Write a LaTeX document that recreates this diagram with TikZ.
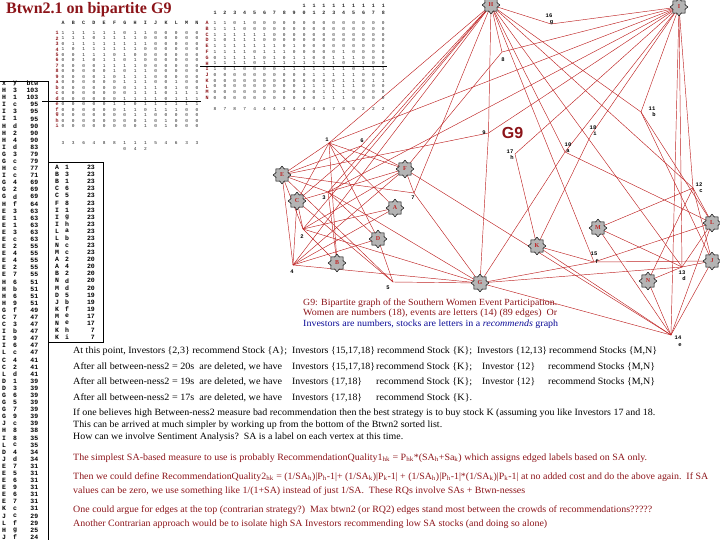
\documentclass[tikz,border=0pt]{standalone}
\usepackage{fontspec}
\usepackage{graphicx}
\setmainfont{Liberation Serif}
\newfontfamily\mono{Liberation Mono}
\newfontfamily\gsans{Liberation Sans}
\usetikzlibrary{shapes.geometric,backgrounds}
\definecolor{dred}{RGB}{140,20,25}
\definecolor{ered}{RGB}{190,35,35}
\definecolor{cblue}{RGB}{10,10,150}
\definecolor{sgray}{RGB}{180,180,180}
\newcommand\fitw[2]{\resizebox{#1pt}{\height}{#2}}
\tikzset{
 evtstar/.style={star, star points=8, star point ratio=1.35, minimum size=17.5pt, inner sep=0pt, fill=sgray, draw=black, line width=0.5pt, font={\fontsize{6}{6}\selectfont\bfseries}, text=ered},
 gedge/.style={draw=ered, line width=0.45pt},
 invlab/.style={font={\fontsize{5.5}{6}\selectfont\mono\bfseries}, inner sep=0pt, text=black},
 mcell/.style={font={\fontsize{4.5}{5}\selectfont\mono}, inner sep=0pt, text=black!85},
 rowlab/.style={font={\fontsize{5}{5}\selectfont\mono\bfseries}, inner sep=0pt, text=dred},
 tabtxt/.style={font={\fontsize{6.5}{7}\selectfont\mono\bfseries}, inner sep=0pt},
 boxline/.style={draw=black, line width=0.6pt},
 bodytxt/.style={font={\fontsize{9.6}{10}\selectfont}, inner sep=0pt, anchor=west},
 captxt/.style={font={\fontsize{9.4}{10}\selectfont}, inner sep=0pt, anchor=west},
}
\begin{document}
\begin{tikzpicture}[x=1pt,y=-1pt]
\useasboundingbox (0,0) rectangle (720,540);

% ---------- title ----------
\node[anchor=base west, inner sep=0pt, text=dred, font={\fontsize{16}{16}\selectfont\bfseries}] (title) at (6,14) {Btwn2.1 on bipartite G9};

% ---------- left table ----------
\draw[boxline] (0,81) -- (48.5,81) -- (48.5,540);
\node[tabtxt] (hx) at (4,83.5) {x};
\node[tabtxt] (hy) at (15,83.5) {y};
\node[tabtxt, anchor=east] (hb) at (38.5,83.5) {btw};
\foreach \a/\b/\c [count=\k] in {H/3/103,H/1/103,I/c/95,I/3/95,I/1/95,H/d/90,H/2/90,H/4/90,I/d/83,G/3/79,G/c/79,H/c/77,I/c/71,G/4/69,G/2/69,G/d/69,H/f/64,E/3/63,E/1/63,E/1/63,E/3/63,E/c/63,E/2/55,E/4/55,E/4/55,E/2/55,E/7/55,H/6/51,H/b/51,H/6/51,H/9/51,G/f/49,C/7/47,C/3/47,I/b/47,I/9/47,I/6/47,L/c/47,C/4/41,C/2/41,L/d/41,D/1/39,D/3/39,G/6/39,G/5/39,G/7/39,G/9/39,J/c/39,H/8/38,I/8/35,L/c/35,D/4/34,J/d/34,E/7/31,E/5/31,E/6/31,E/9/31,E/6/31,E/7/31,K/c/31,J/c/29,L/f/29,H/g/25,J/f/24}{
  \node[tabtxt] (lx\k) at (4,{90.5+(\k-1)*7.09}) {\a};
  \node[tabtxt] (ly\k) at (15,{90.5+(\k-1)*7.09}) {\b};
  \node[tabtxt, anchor=east] (lb\k) at (38.5,{90.5+(\k-1)*7.09}) {\c};
}

% ---------- middle table ----------
\draw[boxline] (48.5,162) -- (103,162) -- (103,342) -- (48.5,342);
\foreach \a/\b/\c [count=\k] in {A/1/23,B/3/23,B/1/23,C/6/23,C/5/23,F/8/23,I/1/23,I/g/23,I/h/23,L/a/23,L/b/23,N/c/23,M/c/23,A/2/20,A/4/20,B/2/20,N/d/20,M/d/20,D/5/19,J/b/19,K/f/19,M/e/17,N/e/17,K/h/7,K/i/7}{
  \node[tabtxt] (mx\k) at (57,{167.5+(\k-1)*7.08}) {\a};
  \node[tabtxt] (my\k) at (67,{167.5+(\k-1)*7.08}) {\b};
  \node[tabtxt, anchor=east] (mb\k) at (95,{167.5+(\k-1)*7.08}) {\c};
}

% ---------- matrix 1 (investors x events) ----------
\foreach \h [count=\c] in {A,B,C,D,E,F,G,H,I,J,K,L,M,N}
  \node[mcell, font={\fontsize{5}{5}\selectfont\mono\bfseries}] (pa\c) at ({63+(\c-1)*10.3},23) {\h};
\foreach \l [count=\r] in {1,2,3,4,5,6,7,8,9,a,b,c,d,e,f,g,h,i}
  \node[rowlab] (ra\r) at (57,{33+(\r-1)*5.47}) {\l};
\foreach \row [count=\r] in {
 {1,1,1,1,1,1,0,1,1,0,0,0,0,0},{1,1,1,0,1,1,1,1,0,0,0,0,0,0},{0,1,1,1,1,1,1,1,1,0,0,0,0,0},
 {1,0,1,1,1,1,1,1,0,0,0,0,0,0},{0,0,1,1,1,0,1,0,0,0,0,0,0,0},{0,0,1,0,1,1,0,1,0,0,0,0,0,0},
 {0,0,0,0,1,1,1,1,0,0,0,0,0,0},{0,0,0,0,0,1,0,1,1,0,0,0,0,0},{0,0,0,0,1,0,1,1,1,0,0,0,0,0},
 {0,0,0,0,0,0,1,1,1,0,0,1,0,0},{0,0,0,0,0,0,0,1,1,1,0,1,0,0},{0,0,0,0,0,0,0,1,1,1,0,1,1,1},
 {0,0,0,0,0,0,1,1,1,1,0,1,1,1},{0,0,0,0,0,1,1,0,1,1,1,1,1,1},{0,0,0,0,0,0,1,1,0,1,1,1,0,0},
 {0,0,0,0,0,0,0,1,1,0,0,0,0,0},{0,0,0,0,0,0,0,0,1,0,1,0,0,0},{0,0,0,0,0,0,0,0,1,0,1,0,0,0}}
 \foreach \v [count=\c] in \row
  \node[mcell] (ma\r-\c) at ({63+(\c-1)*10.3},{33+(\r-1)*5.47}) {\v};
\draw[boxline] (42,101.3) -- (201,101.3);
\foreach \a/\b [count=\c] in {3/,3/,6/,4/,8/,8/,1/0,1/4,1/2,5/,4/,6/,3/,3/}{
  \node[mcell] (fa\c) at ({63+(\c-1)*10.3},143) {\a};
  \node[mcell] (fb\c) at ({63+(\c-1)*10.3},149) {\b};
}

% ---------- matrix 2 (events x investors) ----------
\foreach \a/\b [count=\c] in {/1,/2,/3,/4,/5,/6,/7,/8,/9,1/0,1/1,1/2,1/3,1/4,1/5,1/6,1/7,1/8}{
  \node[mcell, font={\fontsize{5}{5}\selectfont\mono\bfseries}] (qa\c) at ({215+(\c-1)*9.9},5.5) {\a};
  \node[mcell, font={\fontsize{5}{5}\selectfont\mono\bfseries}] (qb\c) at ({215+(\c-1)*9.9},12.5) {\b};
}
\foreach \l [count=\r] in {A,B,C,D,E,F,G,H,I,J,K,L,M,N}
  \node[rowlab] (rb\r) at (207,{23+(\r-1)*5.77}) {\l};
\foreach \row [count=\r] in {
 {1,1,0,1,0,0,0,0,0,0,0,0,0,0,0,0,0,0},{1,1,1,0,0,0,0,0,0,0,0,0,0,0,0,0,0,0},
 {1,1,1,1,1,1,0,0,0,0,0,0,0,0,0,0,0,0},{1,0,1,1,1,0,0,0,0,0,0,0,0,0,0,0,0,0},
 {1,1,1,1,1,1,1,0,1,0,0,0,0,0,0,0,0,0},{1,1,1,1,0,1,1,1,0,0,0,0,0,1,0,0,0,0},
 {0,1,1,1,1,0,1,0,1,1,0,0,1,1,1,0,0,0},{1,1,1,1,0,1,1,1,1,1,1,1,1,0,1,1,0,0},
 {1,0,1,0,0,0,0,1,1,1,1,1,1,1,0,1,1,1},{0,0,0,0,0,0,0,0,0,0,1,1,1,1,1,0,0,0},
 {0,0,0,0,0,0,0,0,0,0,0,0,0,1,1,0,1,1},{0,0,0,0,0,0,0,0,0,1,1,1,1,1,1,0,0,0},
 {0,0,0,0,0,0,0,0,0,0,0,1,1,1,0,0,0,0},{0,0,0,0,0,0,0,0,0,0,0,1,1,1,0,0,0,0}}
 \foreach \v [count=\c] in \row
  \node[mcell] (mb\r-\c) at ({215+(\c-1)*9.9},{23+(\r-1)*5.77}) {\v};
\draw[boxline] (200,66.5) -- (387,66.5);
\foreach \a [count=\c] in {8,7,8,7,4,4,4,3,4,4,4,6,7,8,5,2,2,2}
  \node[mcell] (fq\c) at ({215+(\c-1)*9.9},109) {\a};

% ---------- graph: events ----------
\node[evtstar] (A) at (395,208) {A};
\node[evtstar] (B) at (337,263) {B};
\node[evtstar] (C) at (297,201) {C};
\node[evtstar] (D) at (378,239) {D};
\node[evtstar] (E) at (282,175) {E};
\node[evtstar] (F) at (405,169) {F};
\node[evtstar] (G) at (480,283) {G};
\node[evtstar] (H) at (491,5) {H};
\node[evtstar] (I) at (679,7) {I};
\node[evtstar] (J) at (712,261) {J};
\node[evtstar] (K) at (537,246) {K};
\node[evtstar] (L) at (712,223) {L};
\node[evtstar] (M) at (598,228) {M};
\node[evtstar] (N) at (648,281) {N};

% ---------- graph: investors ----------
\coordinate (i1) at (329,143);
\coordinate (i2) at (303,229);
\coordinate (i3) at (328,192);
\coordinate (i4) at (293,265);
\coordinate (i5) at (393,282);
\coordinate (i6) at (361,146);
\coordinate (i7) at (414,193);
\coordinate (i8) at (502,52);
\coordinate (i9) at (488.5,133);
\coordinate (i10) at (565,152);
\coordinate (i11) at (641,112);
\coordinate (i12) at (693,188);
\coordinate (i13) at (682,267);
\coordinate (i14) at (671,335);
\coordinate (i15) at (594,262);
\coordinate (i16) at (551,24);
\coordinate (i17) at (515,154);
\coordinate (i18) at (591,135);

\begin{pgfonlayer}{background}
\foreach \i/\evs in {1/{A,B,C,D,E,F,H,I},2/{A,B,C,E,F,G,H},3/{B,C,D,E,F,G,H,I},4/{A,C,D,E,F,G,H},5/{C,D,E,G},6/{C,E,F,H},7/{E,F,G,H},8/{F,H,I},9/{E,G,H,I},10/{G,H,I,L},11/{H,I,J,L},12/{H,I,J,L,M,N},13/{G,H,I,J,L,M,N},14/{F,G,I,J,K,L,M,N},15/{G,H,J,K,L},16/{H,I},17/{I,K},18/{I,K}}
  \foreach \e in \evs \draw[gedge] (i\i) -- (\e);
\end{pgfonlayer}

% investor labels
\node[invlab] (n1) at (327,140) {1};
\node[invlab] (n2) at (302,237) {2};
\node[invlab] (n3) at (324,198) {3};
\node[invlab] (n4) at (292,272) {4};
\node[invlab] (n5) at (388,288) {5};
\node[invlab] (n6) at (362,141) {6};
\node[invlab] (n7) at (413,198) {7};
\node[invlab] (n8) at (503,60) {8};
\node[invlab] (n9) at (484,133) {9};
\node[invlab] (n10) at (568,145) {10};
\node[invlab] (s10) at (568,151) {a};
\node[invlab] (n11) at (652,109) {11};
\node[invlab] (s11) at (654,115) {b};
\node[invlab] (n12) at (699,185) {12};
\node[invlab] (s12) at (701,191.5) {c};
\node[invlab] (n13) at (682,273) {13};
\node[invlab] (s13) at (684,279) {d};
\node[invlab] (n14) at (678,338) {14};
\node[invlab] (s14) at (680,345) {e};
\node[invlab] (n15) at (594,254) {15};
\node[invlab] (s15) at (597,261) {f};
\node[invlab] (n16) at (549,15.5) {16};
\node[invlab] (s16) at (551.5,23) {g};
\node[invlab] (n17) at (510,151.5) {17};
\node[invlab] (s17) at (512,158) {h};
\node[invlab] (n18) at (593,127.5) {18};
\node[invlab] (s18) at (595,133.5) {i};

\node[inner sep=0pt, text=dred, font={\fontsize{16}{16}\selectfont\gsans\bfseries}] (g9) at (512.5,132.5) {G9};

% ---------- caption ----------
\node[captxt, text=dred] (c1) at (303,303) {\fitw{254}{G9: Bipartite graph of the Southern Women Event Participation.}};
\node[captxt, text=dred] (c2) at (303,313.5) {\fitw{254}{Women are numbers (18), events are letters (14) (89 edges)\ \ Or}};
\node[captxt, text=cblue] (c3) at (303,324) {\fitw{255}{Investors are numbers, stocks are letters in a \textit{recommends} graph}};

% ---------- text block ----------
\node[bodytxt] (t1a) at (73,351) {\fitw{214}{At this point, Investors \{2,3\} recommend Stock \{A\};}};
\node[bodytxt] (t1b) at (292,351) {\fitw{83}{Investors \{15,17,18\}}};
\node[bodytxt] (t1c) at (377,351) {\fitw{95}{recommend Stock \{K\};}};
\node[bodytxt] (t1d) at (477,351) {\fitw{70}{Investors \{12,13\}}};
\node[bodytxt] (t1e) at (549,351) {\fitw{108}{recommend Stocks \{M,N\}}};

\node[bodytxt] (t2a) at (73,366.5) {\fitw{209}{After all between-ness2 = 20s\ \ are deleted, we have}};
\node[bodytxt] (t2b) at (292,366.5) {\fitw{83}{Investors \{15,17,18\}}};
\node[bodytxt] (t2c) at (376,366.5) {\fitw{96}{recommend Stock \{K\};}};
\node[bodytxt] (t2d) at (482,366.5) {\fitw{53}{Investor \{12\}}};
\node[bodytxt] (t2e) at (548,366.5) {\fitw{107}{recommend Stocks \{M,N\}}};

\node[bodytxt] (t3a) at (73,382) {\fitw{209}{After all between-ness2 = 19s\ \ are deleted, we have}};
\node[bodytxt] (t3b) at (292,382) {\fitw{70}{Investors \{17,18\}}};
\node[bodytxt] (t3c) at (376,382) {\fitw{96}{recommend Stock \{K\};}};
\node[bodytxt] (t3d) at (482,382) {\fitw{53}{Investor \{12\}}};
\node[bodytxt] (t3e) at (548,382) {\fitw{107}{recommend Stocks \{M,N\}}};

\node[bodytxt] (t4a) at (73,398) {\fitw{209}{After all between-ness2 = 17s\ \ are deleted, we have}};
\node[bodytxt] (t4b) at (292,398) {\fitw{70}{Investors \{17,18\}}};
\node[bodytxt] (t4c) at (376,398) {\fitw{96}{recommend Stock \{K\}.}};

\node[bodytxt] (t5) at (73,413.5) {\fitw{582}{If one believes high Between-ness2 measure bad recommendation then the best strategy is to buy stock K (assuming you like Investors 17 and 18.}};
\node[bodytxt] (t6) at (73,425.5) {\fitw{369}{This can be arrived at much simpler by working up from the bottom of the Btwn2 sorted list.}};
\node[bodytxt] (t7) at (73,437.5) {\fitw{330}{How can we involve Sentiment Analysis?\ \ SA is a label on each vertex at this time.}};

\node[bodytxt, text=dred] (t8) at (73,458) {\fitw{574}{The simplest SA-based measure to use is probably RecommendationQuality1\textsubscript{hk} = P\textsubscript{hk}*(SA\textsubscript{h}+Sa\textsubscript{k}) which assigns edged labels based on SA only.}};
\node[bodytxt, text=dred] (t9) at (73,477) {\fitw{635}{Then we could define RecommendationQuality2\textsubscript{hk} = (1/SA\textsubscript{h})|P\textsubscript{h}-1|+ (1/SA\textsubscript{k})|P\textsubscript{k}-1| + (1/SA\textsubscript{h})|P\textsubscript{h}-1|*(1/SA\textsubscript{k})|P\textsubscript{k}-1| at no added cost and do the above again.\ \ If SA}};
\node[bodytxt, text=dred] (t10) at (73,491) {\fitw{452}{values can be zero, we use something like 1/(1+SA) instead of just 1/SA.\ \ These RQs involve SAs + Btwn-nesses}};
\node[bodytxt, text=dred] (t11) at (73,510) {\fitw{579}{One could argue for edges at the top (contrarian strategy?)\ \ Max btwn2 (or RQ2) edges stand most between the crowds of recommendations?????}};
\node[bodytxt, text=dred] (t12) at (73,524) {\fitw{474}{Another Contrarian approach would be to isolate high SA Investors recommending low SA stocks (and doing so alone)}};
\end{tikzpicture}
\end{document}
